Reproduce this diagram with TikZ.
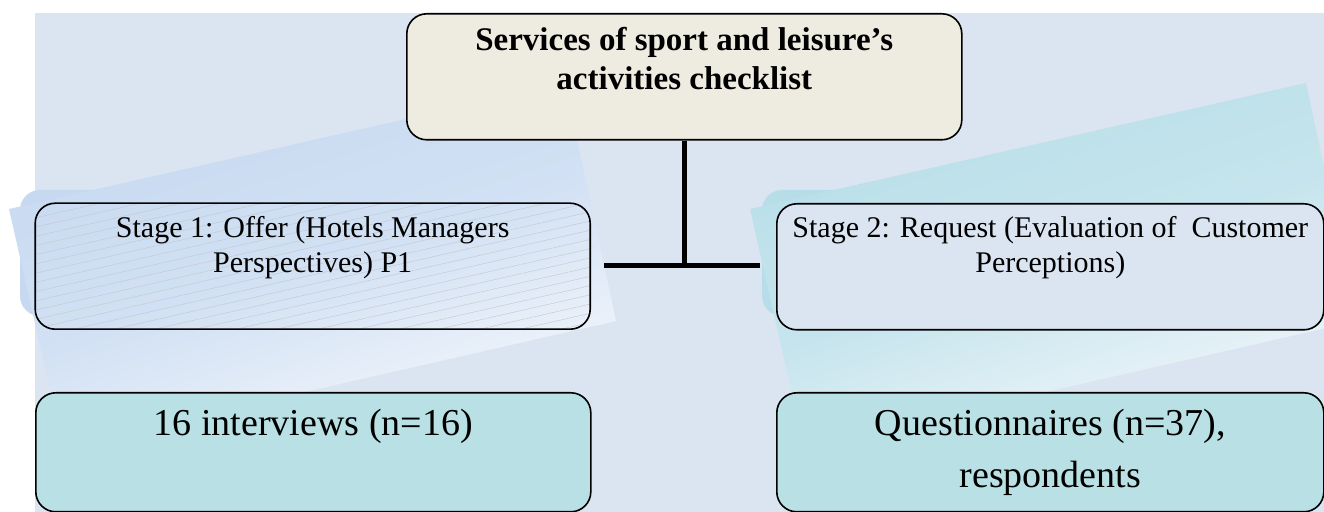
\documentclass[tikz,border=0pt]{standalone}
\usepackage{fontspec}
\setmainfont{Liberation Serif}
\usepackage{xcolor}
\usepackage{tikz}
\usetikzlibrary{patterns.meta}
\definecolor{bgblue}{HTML}{DBE5F1}
\definecolor{paperblue}{HTML}{C6D9F1}
\definecolor{paperteal}{HTML}{B7DEE8}
\definecolor{paperwhite}{HTML}{F5F8FC}
\definecolor{headtan}{HTML}{EEECE1}
\definecolor{countteal}{RGB}{185,224,228}

\begin{document}
\begin{tikzpicture}[x=0.5pt,y=-0.5pt,
  card/.style n args={4}{draw=black,line width=0.8pt,rounded corners=10pt,inner sep=0pt,
    anchor=north west,
    execute at begin node={\begin{minipage}[t][#2][t]{#1}\centering#3\rule{0pt}{#4}},
    execute at end node={\end{minipage}}},
  headbox/.style={card={277.5pt}{63pt}{\bfseries\fontsize{16.5}{19.5}\selectfont}{18.5pt},fill=headtan},
  stagebox/.style={card={#1}{63pt}{\fontsize{15}{17.5}\selectfont}{17pt}},
  countbox/.style={card={#1}{59.5pt}{\fontsize{19}{26}\selectfont}{21.5pt},fill=countteal},
  paper/.style={top color=#1,bottom color=paperwhite,middle color=#1!75!paperwhite,shading angle=18},
  shadow/.style={fill=#1,rounded corners=10pt},
  conn/.style={line width=2.5pt}]
  \useasboundingbox (0,0) rectangle (1324,512);
  \clip (0,0) rectangle (1324,512);
  \fill[bgblue] (35,13) rectangle (1324,512);
  \path[shadow=paperblue] (20,190) rectangle (575,316);
  \path[shadow=paperteal] (762,190) rectangle (1309,316);
  \path[paper=paperblue] (9,209) -- (565,83) -- (616,321) -- (63,447) -- cycle;
  \path[paper=paperteal] (750,209) -- (1306,83) -- (1357,321) -- (804,447) -- cycle;
  \node[headbox] (head) at (406,13) {Services of sport and leisure's\\activities checklist};
  \node[stagebox=277.5pt,pattern={Lines[angle=12.8,distance=4.5pt,line width=0.2pt]},
        pattern color=gray!45] (offer) at (35,203) {Stage 1: Offer (Hotels Managers\\Perspectives) P1};
  \node[stagebox=273.5pt,fill=bgblue] (request) at (776,203)
        {Stage 2: Request (Evaluation of\ \ Customer\\Perceptions)};
  \node[countbox=277.5pt] (interviews) at (35,392) {16 interviews (n=16)};
  \node[countbox=273.5pt] (questionnaires) at (776,392) {Questionnaires (n=37),\\respondents};
  \coordinate (hub) at (684,266);
  \coordinate (offerend) at (604,266);
  \coordinate (requestend) at (760,266);
  \draw[conn] (head.south) -- (head.south |- hub);
  \draw[conn] (offerend) -- (requestend);
\end{tikzpicture}
\end{document}
